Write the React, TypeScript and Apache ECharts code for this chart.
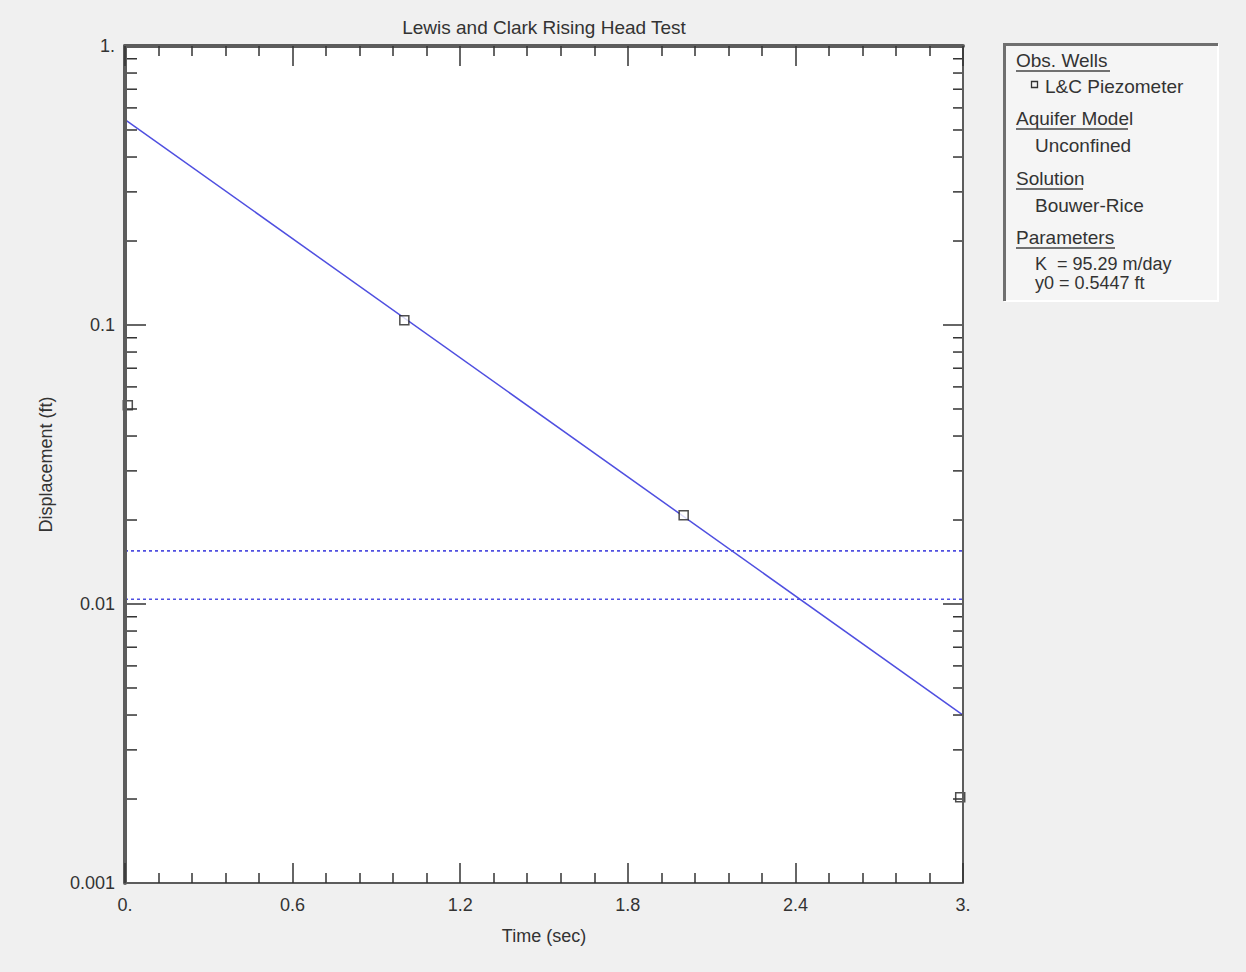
import React, { useEffect, useRef } from 'react';
import * as echarts from 'echarts';

// ---- data ----
const titleText = 'Lewis and Clark Rising Head Test';
const xAxisName = 'Time (sec)';
const yAxisName = 'Displacement (ft)';

const obsTime = [0.01, 1.0, 2.0, 2.99];
const obsDisp = [0.0516, 0.104, 0.0208, 0.00203];

const fitTime = [0.0, 3.0];
const fitDisp = [0.5447, 0.004];

const guideLevels = [0.0155, 0.0104];

const xTickLabels = ['0.', '0.6', '1.2', '1.8', '2.4', '3.'];
const yTickValues = [0.001, 0.01, 0.1, 1];
const yTickLabels = ['0.001', '0.01', '0.1', '1.'];
const yMinorTicks = [
  0.002, 0.003, 0.004, 0.005, 0.006, 0.007, 0.008, 0.009,
  0.02, 0.03, 0.04, 0.05, 0.06, 0.07, 0.08, 0.09,
  0.2, 0.3, 0.4, 0.5, 0.6, 0.7, 0.8, 0.9,
];

const legendHeadings = ['Obs. Wells', 'Aquifer Model', 'Solution', 'Parameters'];
const legendValues = ['L&C Piezometer', 'Unconfined', 'Bouwer-Rice', 'K  = 95.29 m/day\ny0 = 0.5447 ft'];

const FONT = '"Liberation Sans", Arial, sans-serif';
const TEXT = '#333';
const BLUE = '#4f4fe0';
const FRAME = '#5c5c5c';

export default function App() {
  const ref = useRef<HTMLDivElement>(null);

  useEffect(() => {
    if (!ref.current) return;
    const chart = echarts.init(ref.current, null, { renderer: 'svg' });

    const gridLeft = 125;
    const gridTop = 46;
    const gridW = 838;
    const gridH = 837;
    const X_MIN = 0;
    const X_MAX = 3;
    const Y_MIN = 0.001;
    const Y_MAX = 1;

    const xFmt = (v: number) => {
      const i = Math.round(v / 0.6);
      return xTickLabels[i] ?? '';
    };
    const yFmt = (v: number) => {
      const i = yTickValues.findIndex((t) => Math.abs(Math.log10(t) - Math.log10(v)) < 1e-6);
      return i >= 0 ? yTickLabels[i] : '';
    };

    // legend graphics
    const lg: any[] = [];
    const bx = 1004, by = 44, bw = 214, bh = 257;
    lg.push({ type: 'rect', shape: { x: bx, y: by, width: bw, height: bh }, style: { fill: '#f5f5f5' } });
    lg.push({ type: 'polyline', shape: { points: [[bx + bw, by], [bx + bw, by + bh], [bx, by + bh]] }, style: { stroke: '#ffffff', lineWidth: 2, fill: null } });
    lg.push({ type: 'polyline', shape: { points: [[bx + 0.5, by + bh], [bx + 0.5, by + 0.5], [bx + bw, by + 0.5]] }, style: { stroke: '#6f6f6f', lineWidth: 3, fill: null } });

    const headY = [60, 118, 178, 237];
    const underlineW = [94, 112, 67, 99];
    const valueY = [86, 145, 205, 273.5];
    legendHeadings.forEach((h, i) => {
      lg.push({ type: 'text', x: 1016, y: headY[i], style: { text: h, font: `19px ${FONT}`, fill: TEXT, textAlign: 'left', textVerticalAlign: 'middle' } });
      lg.push({ type: 'line', shape: { x1: 1016, y1: headY[i] + 11, x2: 1016 + underlineW[i], y2: headY[i] + 11 }, style: { stroke: '#444', lineWidth: 1.5 } });
      const x = i === 0 ? 1045 : 1035;
      const fs = i === 3 ? 18 : 19;
      lg.push({ type: 'text', x, y: valueY[i], style: { text: legendValues[i], font: `${fs}px ${FONT}`, lineHeight: 19, fill: TEXT, textAlign: 'left', textVerticalAlign: 'middle' } });
    });
    lg.push({ type: 'rect', shape: { x: 1031.5, y: 81.5, width: 6, height: 6 }, style: { fill: 'none', stroke: '#333', lineWidth: 1.3 } });

    const tickStyle = { color: '#333', width: 1.5 };

    const tickRenderer = (leftLen: number, rightLen: number) => (params: any, api: any) => {
      const v = api.value(1);
      const pl = api.coord([X_MIN, v]);
      const pr = api.coord([X_MAX, v]);
      return {
        type: 'group',
        children: [
          { type: 'line', shape: { x1: pl[0], y1: pl[1], x2: pl[0] + leftLen, y2: pl[1] }, style: { stroke: '#333', lineWidth: 1.5 } },
          { type: 'line', shape: { x1: pr[0] - rightLen, y1: pr[1], x2: pr[0], y2: pr[1] }, style: { stroke: '#333', lineWidth: 1.5 } },
        ],
      };
    };

    const option: any = {
      animation: false,
      backgroundColor: '#f0f0f0',
      grid: {
        left: gridLeft,
        top: gridTop,
        width: gridW,
        height: gridH,
        show: true,
        backgroundColor: '#ffffff',
        borderWidth: 0,
        outerBoundsMode: 'none',
      },
      xAxis: [
        {
          type: 'value',
          position: 'bottom',
          min: X_MIN,
          max: X_MAX,
          interval: 0.6,
          z: 10,
          name: xAxisName,
          nameLocation: 'middle',
          nameGap: 44,
          nameTextStyle: { fontFamily: FONT, fontSize: 18, color: TEXT },
          axisLine: { show: true, lineStyle: { color: FRAME, width: 2 } },
          axisTick: { show: true, inside: true, length: 20, lineStyle: tickStyle },
          minorTick: { show: true, splitNumber: 5, length: 10, lineStyle: tickStyle },
          axisLabel: { formatter: xFmt, margin: 13, fontFamily: FONT, fontSize: 18, color: TEXT, showMinLabel: true, showMaxLabel: true },
          splitLine: { show: false },
        },
        {
          type: 'value',
          position: 'top',
          min: X_MIN,
          max: X_MAX,
          interval: 0.6,
          z: 10,
          axisLine: { show: true, lineStyle: { color: FRAME, width: 4 } },
          axisTick: { show: true, inside: true, length: 20, lineStyle: tickStyle },
          minorTick: { show: true, splitNumber: 5, length: 10, lineStyle: tickStyle },
          axisLabel: { show: false },
          splitLine: { show: false },
        },
      ],
      yAxis: [
        {
          type: 'log',
          logBase: 10,
          position: 'left',
          min: Y_MIN,
          max: Y_MAX,
          z: 10,
          name: yAxisName,
          nameLocation: 'middle',
          nameGap: 70,
          nameTextStyle: { fontFamily: FONT, fontSize: 18, color: TEXT },
          axisLine: { show: true, lineStyle: { color: FRAME, width: 4 } },
          axisTick: { show: false },
          axisLabel: { formatter: yFmt, margin: 10, fontFamily: FONT, fontSize: 18, color: TEXT, showMinLabel: true, showMaxLabel: true },
          splitLine: { show: false },
        },
      ],
      series: [
        {
          type: 'line',
          name: 'guide1',
          data: [[X_MIN, guideLevels[0]], [X_MAX, guideLevels[0]]],
          showSymbol: false,
          symbol: 'none',
          lineStyle: { color: BLUE, width: 1.6, type: [3, 3] },
          z: 2,
        },
        {
          type: 'line',
          name: 'guide2',
          data: [[X_MIN, guideLevels[1]], [X_MAX, guideLevels[1]]],
          showSymbol: false,
          symbol: 'none',
          lineStyle: { color: BLUE, width: 1.6, type: [3, 3] },
          z: 2,
        },
        {
          type: 'line',
          name: 'fit',
          data: fitTime.map((t, i) => [t, fitDisp[i]]),
          showSymbol: false,
          symbol: 'none',
          lineStyle: { color: BLUE, width: 1.5 },
          z: 3,
        },
        {
          type: 'scatter',
          name: 'L&C Piezometer',
          data: obsTime.map((t, i) => [t, obsDisp[i]]),
          symbol: 'rect',
          symbolSize: 9,
          clip: false,
          itemStyle: { color: '#ffffff', borderColor: '#222', borderWidth: 1.5 },
          z: 4,
        },
        {
          type: 'line',
          name: 'rightFrame',
          data: [[X_MAX, Y_MIN], [X_MAX, Y_MAX]],
          showSymbol: false,
          symbol: 'none',
          clip: false,
          silent: true,
          lineStyle: { color: FRAME, width: 2 },
          z: 6,
        },
        {
          type: 'custom',
          name: 'minorTicks',
          clip: false,
          silent: true,
          z: 5,
          data: yMinorTicks.map((v) => [X_MIN, v]),
          encode: { x: 0, y: 1 },
          renderItem: tickRenderer(12, 10),
        },
        {
          type: 'custom',
          name: 'majorTicks',
          clip: false,
          silent: true,
          z: 5,
          data: yTickValues.map((v) => [X_MIN, v]),
          encode: { x: 0, y: 1 },
          renderItem: tickRenderer(21, 20),
        },
      ],
      graphic: [
        {
          type: 'text',
          x: gridLeft + gridW / 2,
          y: 27,
          style: { text: titleText, font: `19px ${FONT}`, fill: TEXT, textAlign: 'center', textVerticalAlign: 'middle' },
        },
        { type: 'group', children: lg },
      ],
    };

    chart.setOption(option);
    return () => chart.dispose();
  }, []);

  return <div ref={ref} style={{ position: 'fixed', left: 0, top: 0, width: 1246, height: 972 }} />;
}
